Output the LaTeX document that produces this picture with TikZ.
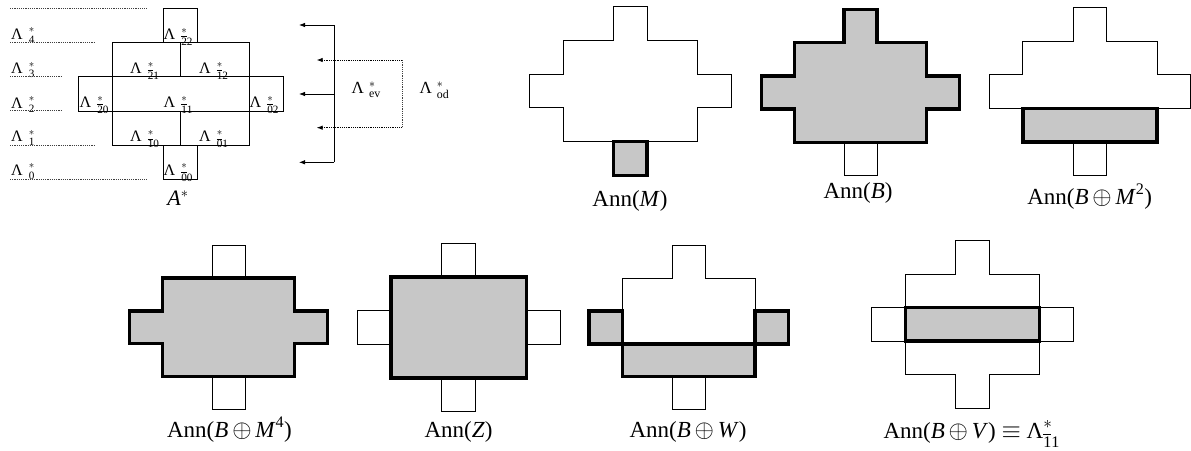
\documentclass[tikz,border=0pt]{standalone}
\usepackage{amsmath}
\usepackage{fontspec}
\setmainfont{Liberation Serif}
\usetikzlibrary{arrows.meta}
\newcommand\bd[1]{\overline{\text{#1}}}
\newcommand\Lsub[1]{Λ\kern6pt${}^{*}_{#1}$}
\newcommand\crossoutline{\draw[thinln] (-0.5,0) -- (0.5,0) -- (0.5,1) -- (2,1) -- (2,2) -- (3,2) -- (3,3) -- (2,3) -- (2,4) -- (0.5,4) -- (0.5,5) -- (-0.5,5) -- (-0.5,4) -- (-2,4) -- (-2,3) -- (-3,3) -- (-3,2) -- (-2,2) -- (-2,1) -- (-0.5,1) -- cycle;}
\tikzset{
  panel/.style n args={4}{shift={(#1,#2)},x=#3pt,y=-#4pt},
  thinln/.style={draw=black, line width=0.8pt},
  thk/.style={draw=black, line width=3.5pt, fill=black!22, line join=miter},
  lamlab/.style={inner sep=0pt, anchor=base west, font=\fontsize{16}{19}\selectfont},
  annlab/.style={inner sep=0pt, anchor=base, font=\fontsize{23}{27}\selectfont},
  dotln/.style={draw=black!75, line width=0.6pt, dash pattern=on 1.2pt off 1pt},
  arr/.style={-{Latex[length=6pt,width=4.5pt]}, line width=0.8pt},
}
\begin{document}
\begin{tikzpicture}[x=1pt,y=-1pt]
\useasboundingbox (0,0) rectangle (1191,450);

% ---------- A* ----------
\begin{scope}[panel={180.5}{8.3}{34.2}{34.2}]
  \draw[thinln] (-0.5,0) rectangle (0.5,1);
  \draw[thinln] (-2,1) rectangle (2,4);
  \draw[thinln] (-3,2) rectangle (3,3);
  \draw[thinln] (-0.5,4) rectangle (0.5,5);
  \draw[thinln] (0,1) -- (0,2);
  \draw[thinln] (0,3) -- (0,4);
\end{scope}
\node[lamlab] (l22) at (163.5,39.3) {\Lsub{\bd{2}\text{2}}};
\node[lamlab] (l21) at (130,73.3) {\Lsub{\bd{2}\text{1}}};
\node[lamlab] (l12) at (199,73.3) {\Lsub{\bd{1}\text{2}}};
\node[lamlab] (l20) at (79.5,107.3) {\Lsub{\bd{2}\text{0}}};
\node[lamlab] (l11) at (163.5,107.3) {\Lsub{\bd{1}\text{1}}};
\node[lamlab] (l02) at (249.5,107.3) {\Lsub{\bd{0}\text{2}}};
\node[lamlab] (l10) at (130,141.7) {\Lsub{\bd{1}\text{0}}};
\node[lamlab] (l01) at (199,141.7) {\Lsub{\bd{0}\text{1}}};
\node[lamlab] (l00) at (163.5,175) {\Lsub{\bd{0}\text{0}}};

% layer labels
\node[lamlab] (L4) at (11,39) {\Lsub{\text{4}}};
\node[lamlab] (L3) at (11,73.3) {\Lsub{\text{3}}};
\node[lamlab] (L2) at (11,108) {\Lsub{\text{2}}};
\node[lamlab] (L1) at (11,141.7) {\Lsub{\text{1}}};
\node[lamlab] (L0) at (11,175) {\Lsub{\text{0}}};
\draw[dotln] (10,8.3) -- (147,8.3);
\draw[dotln] (10,42.3) -- (95,42.3);
\draw[dotln] (10,76.7) -- (62,76.7);
\draw[dotln] (10,110.7) -- (62,110.7);
\draw[dotln] (10,145) -- (95,145);
\draw[dotln] (10,179.3) -- (147,179.3);

\node[inner sep=0pt, anchor=base, font=\fontsize{22}{26}\selectfont] (Astar) at (178,205) {\textit{A}$^{*}$};

% ---------- ev / od arrows ----------
\coordinate (v1) at (334.3,25);
\coordinate (v2) at (334.3,94);
\coordinate (v3) at (334.3,162.3);
\coordinate (t1) at (299,25);
\coordinate (t2) at (299,94);
\coordinate (t3) at (299,162.3);
\coordinate (d1) at (402.3,60);
\coordinate (d2) at (402.3,127.7);
\coordinate (e1) at (316.7,60);
\coordinate (e2) at (316.7,127.7);
\draw[line width=0.8pt] (v1) -- (v3);
\draw[arr] (v1) -- (t1);
\draw[arr] (v2) -- (t2);
\draw[arr] (v3) -- (t3);
\draw[dotln, line width=0.8pt] (d1) -- (d2);
\draw[arr, dash pattern=on 1.2pt off 1pt] (d1) -- (e1);
\draw[arr, dash pattern=on 1.2pt off 1pt] (d2) -- (e2);
\node[lamlab, font=\fontsize{17}{20}\selectfont] (ev) at (351.5,93.3) {Λ\kern5pt${}^{*}_{\text{ev}}$};
\node[lamlab, font=\fontsize{17}{20}\selectfont] (od) at (419.3,93.3) {Λ\kern5pt${}^{*}_{\text{od}}$};

% ---------- Ann(M) ----------
\begin{scope}[panel={630.3}{6.3}{33.7}{33.8}]
  \crossoutline
  \draw[thk] (-0.5,4) rectangle (0.5,5);
\end{scope}
\node[annlab] (annM) at (630,206) {Ann(\textit{M})};

% ---------- Ann(B) ----------
\begin{scope}[panel={860.5}{9.5}{33}{33.2}]
  \crossoutline
  \draw[thk] (-0.5,0) -- (0.5,0) -- (0.5,1) -- (2,1) -- (2,2) -- (3,2) -- (3,3) -- (2,3) -- (2,4) -- (-2,4) -- (-2,3) -- (-3,3) -- (-3,2) -- (-2,2) -- (-2,1) -- (-0.5,1) -- cycle;
\end{scope}
\node[annlab] (annB) at (858,198) {Ann(\textit{B})};

% ---------- Ann(B+M^2) ----------
\begin{scope}[panel={1090}{7.3}{33.6}{33.7}]
  \crossoutline
  \draw[thk] (-2,3) rectangle (2,4);
\end{scope}
\node[annlab] (annBM2) at (1089.7,204) {Ann(\textit{B}\,$\oplus$\,\textit{M}$^{\text{2}}$)};

% ---------- Ann(B+M^4) ----------
\begin{scope}[panel={228.5}{245.3}{33}{32.8}]
  \crossoutline
  \draw[thk] (-2,1) -- (2,1) -- (2,2) -- (3,2) -- (3,3) -- (2,3) -- (2,4) -- (-2,4) -- (-2,3) -- (-3,3) -- (-3,2) -- (-2,2) -- cycle;
\end{scope}
\node[annlab] (annBM4) at (229.5,437) {Ann(\textit{B}\,$\oplus$\,\textit{M}$^{\text{4}}$)};

% ---------- Ann(Z) ----------
\begin{scope}[panel={458.7}{243.3}{33.8}{33.7}]
  \crossoutline
  \draw[thk] (-2,1) rectangle (2,4);
\end{scope}
\node[annlab] (annZ) at (458.5,437) {Ann(\textit{Z})};

% ---------- Ann(B+W) ----------
\begin{scope}[panel={688.7}{245.7}{33.2}{32.7}]
  \crossoutline
  \draw[thk] (-3,2) rectangle (-2,3);
  \draw[thk] (2,2) rectangle (3,3);
  \draw[thk] (-2,3) rectangle (2,4);
\end{scope}
\node[annlab] (annBW) at (688,437) {Ann(\textit{B}\,$\oplus$\,\textit{W})};

% ---------- Ann(B+V) ----------
\begin{scope}[panel={972.5}{240.7}{33.6}{33.5}]
  \crossoutline
  \draw[thk] (-2,2) rectangle (2,3);
\end{scope}
\node[annlab] (annBV) at (971.7,438) {Ann(\textit{B}\,$\oplus$\,\textit{V}) $\equiv$ Λ${}^{*}_{\bd{1}\text{1}}$};
\end{tikzpicture}
\end{document}
